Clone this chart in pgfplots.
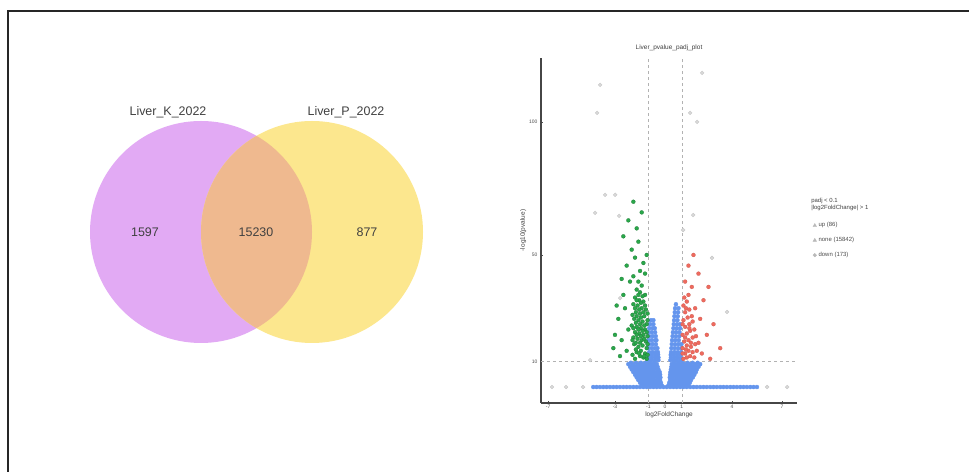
\documentclass[border=0pt]{standalone}
\usepackage{fontspec}
\setmainfont{Liberation Sans}
\usepackage{pgfplots}
\pgfplotsset{compat=1.18}
\definecolor{vpurple}{HTML}{E2AAF4}
\definecolor{vyellow}{HTML}{FCE78E}
\definecolor{vpeach}{HTML}{EFB98F}
\definecolor{ublue}{HTML}{6495ED}
\definecolor{dgreen}{HTML}{2AA74A}
\definecolor{ured}{HTML}{EE6A5E}
\begin{document}
\begin{tikzpicture}[x=1bp,y=1bp]
\path[use as bounding box] (0,0) rectangle (969,472);
\draw[line width=1.6bp, black!85] (8,-3) -- (8,461) -- (975,461);

% ---------------- Venn diagram ----------------
\begin{axis}[at={(60bp,102bp)}, anchor=south west, scale only axis,
  width=420bp, height=280bp, xmin=60, xmax=480, ymin=-370, ymax=-90,
  hide axis, clip=false]
  \fill[vpurple] (axis cs:201,-232) circle[radius=111bp];
  \fill[vyellow] (axis cs:312,-232) circle[radius=111bp];
  \begin{scope}
    \clip (axis cs:201,-232) circle[radius=111bp];
    \fill[vpeach] (axis cs:312,-232) circle[radius=111bp];
  \end{scope}
  \node[font=\fontsize{12.5}{14}\selectfont, text=black!75] at (axis cs:168,-112) {Liver\_K\_2022};
  \node[font=\fontsize{12.5}{14}\selectfont, text=black!75] at (axis cs:346,-112) {Liver\_P\_2022};
  \node[font=\fontsize{12.5}{14}\selectfont, text=black!75] at (axis cs:145,-232) {1597};
  \node[font=\fontsize{12.5}{14}\selectfont, text=black!75] at (axis cs:256,-232) {15230};
  \node[font=\fontsize{12.5}{14}\selectfont, text=black!75] at (axis cs:367,-232) {877};
\end{axis}

% ---------------- Volcano plot ----------------
\begin{axis}[at={(541bp,69bp)}, anchor=south west, scale only axis,
  width=256bp, height=345bp,
  xmin=-7.43, xmax=7.9, ymin=-5.6, ymax=124,
  axis lines*=left,
  axis line style={gray!55!black, line width=1.1bp},
  xtick={-7,-3,-1,0,1,4,7}, ytick={10,50,100},
  tick style={gray!60!black, line width=0.4bp},
  major tick length=2bp,
  tick label style={font=\fontsize{5}{5.5}\selectfont, text=black!70},
  /pgf/number format/assume math mode=true,
  xticklabel style={yshift=1bp},
  title={Liver\_pvalue\_padj\_plot},
  title style={font=\fontsize{6.5}{7}\selectfont, text=black!75, yshift=-2bp},
  xlabel={log2FoldChange}, ylabel={-log10(pvalue)},
  label style={font=\fontsize{6.5}{7}\selectfont, text=black!75},
  xlabel style={yshift=4bp}, ylabel style={yshift=-4bp},
  legend style={at={(1.05,0.535)}, anchor=north west, draw=none, fill=none,
    font=\fontsize{6}{6.5}\selectfont, text=black!70, row sep=5bp},
  legend cell align=left,
  clip mode=individual]

  % threshold lines
  \addplot[forget plot, gray!60, dashed, line width=0.5bp] coordinates {(-7.43,10) (7.9,10)};
  \addplot[forget plot, gray!60, dashed, line width=0.5bp] coordinates {(-1,-5.6) (-1,124)};
  \addplot[forget plot, gray!60, dashed, line width=0.5bp] coordinates {(1,-5.6) (1,124)};

  % faint outliers
  \addplot[forget plot, only marks, mark=*, mark size=1.9, mark options={fill=gray!30, draw=gray!45}] coordinates {
    (-3.89,113.9) (-4.07,103.4) (2.22,118.4) (1.50,103.4) (1.92,100.0)
    (-3.59,72.6) (-2.99,72.6) (-4.19,65.8) (-2.75,64.7) (1.68,65.0)
    (1.08,59.4) (2.81,48.9) (3.71,28.6) (-2.69,33.8) (-4.49,10.5)
    (-6.77,0.4) (-5.93,0.4) (-4.91,0.4) (6.11,0.4) (7.31,0.4)
  };

  % not significant (blue)
  \addplot[forget plot, only marks, mark=*, mark size=2.0, mark options={fill=ublue, draw=ublue}] coordinates {
    (-4.3,0.4) (-4.1,0.4) (-3.9,0.4) (-3.7,0.4) (-3.5,0.4) (-3.3,0.4) (-3.1,0.4) (-2.9,0.4) (-2.7,0.4) (-2.5,0.4)
    (-2.3,0.4) (-2.1,0.4) (-1.9,0.4) (-1.7,0.4) (-1.5,0.4) (-1.3,0.4) (-1.1,0.4) (-0.9,0.4) (-0.7,0.4) (-0.5,0.4)
    (-0.3,0.4) (-0.1,0.4) (0.1,0.4) (0.3,0.4) (0.5,0.4) (0.7,0.4) (0.9,0.4) (1.1,0.4) (1.3,0.4) (1.5,0.4)
    (1.7,0.4) (1.9,0.4) (2.1,0.4) (2.3,0.4) (2.5,0.4) (2.7,0.4) (2.9,0.4) (3.1,0.4) (3.3,0.4) (3.5,0.4)
    (3.7,0.4) (3.9,0.4) (4.1,0.4) (4.3,0.4) (4.5,0.4) (4.7,0.4) (4.9,0.4) (5.1,0.4) (5.3,0.4) (5.5,0.4)
    (-1.4,1) (-1.15,1) (-0.9,1) (-0.65,1) (-0.4,1) (-0.2,1) (0.2,1) (0.4,1) (0.65,1) (0.9,1) (1.15,1) (1.4,1)
    (-1.3,1.5) (-1.05,1.5) (-0.8,1.5) (-0.55,1.5) (-0.3,1.5) (0.3,1.5) (0.55,1.5) (0.8,1.5) (1.05,1.5) (1.3,1.5)
    (-1.5,2) (-1.25,2) (-1.0,2) (-0.75,2) (-0.5,2) (-0.25,2) (0.25,2) (0.5,2) (0.75,2) (1.0,2) (1.25,2) (1.48,2)
    (-1.4,2.5) (-1.15,2.5) (-0.9,2.5) (-0.65,2.5) (-0.38,2.5) (0.38,2.5) (0.62,2.5) (0.88,2.5) (1.12,2.5) (1.38,2.5)
    (-1.6,3) (-1.35,3) (-1.1,3) (-0.85,3) (-0.6,3) (-0.3,3) (0.3,3) (0.55,3) (0.8,3) (1.05,3) (1.3,3) (1.55,3)
    (-1.5,3.5) (-1.25,3.5) (-1.0,3.5) (-0.75,3.5) (-0.45,3.5) (0.42,3.5) (0.68,3.5) (0.92,3.5) (1.18,3.5) (1.42,3.5)
    (-1.7,4) (-1.45,4) (-1.2,4) (-0.95,4) (-0.7,4) (-0.45,4) (-0.28,4) (0.28,4) (0.45,4) (0.7,4) (0.95,4) (1.2,4) (1.45,4) (1.66,4)
    (-1.62,4.5) (-1.35,4.5) (-1.1,4.5) (-0.85,4.5) (-0.58,4.5) (-0.38,4.5) (0.4,4.5) (0.6,4.5) (0.85,4.5) (1.1,4.5) (1.35,4.5) (1.6,4.5)
    (-1.8,5) (-1.55,5) (-1.3,5) (-1.05,5) (-0.8,5) (-0.55,5) (-0.3,5) (0.3,5) (0.55,5) (0.8,5) (1.05,5) (1.3,5) (1.55,5) (1.75,5)
    (-1.7,5.5) (-1.45,5.5) (-1.2,5.5) (-0.95,5.5) (-0.68,5.5) (-0.42,5.5) (0.42,5.5) (0.68,5.5) (0.95,5.5) (1.2,5.5) (1.45,5.5) (1.68,5.5)
    (-1.9,6) (-1.6,6) (-1.35,6) (-1.1,6) (-0.85,6) (-0.6,6) (-0.32,6) (0.32,6) (0.6,6) (0.85,6) (1.1,6) (1.35,6) (1.6,6) (1.84,6)
    (-1.78,6.5) (-1.5,6.5) (-1.25,6.5) (-1.0,6.5) (-0.72,6.5) (-0.45,6.5) (0.45,6.5) (0.72,6.5) (0.98,6.5) (1.22,6.5) (1.48,6.5) (1.72,6.5)
    (-2.0,7) (-1.7,7) (-1.45,7) (-1.2,7) (-0.95,7) (-0.7,7) (-0.4,7) (0.35,7) (0.6,7) (0.85,7) (1.1,7) (1.35,7) (1.6,7) (1.9,7)
    (-1.85,7.5) (-1.6,7.5) (-1.32,7.5) (-1.08,7.5) (-0.82,7.5) (-0.55,7.5) (0.48,7.5) (0.72,7.5) (0.98,7.5) (1.22,7.5) (1.5,7.5) (1.78,7.5)
    (-2.1,8) (-1.8,8) (-1.5,8) (-1.25,8) (-1.0,8) (-0.75,8) (-0.45,8) (0.38,8) (0.65,8) (0.9,8) (1.15,8) (1.4,8) (1.7,8) (2.0,8)
    (-1.95,8.5) (-1.65,8.5) (-1.38,8.5) (-1.12,8.5) (-0.88,8.5) (-0.6,8.5) (0.5,8.5) (0.78,8.5) (1.02,8.5) (1.28,8.5) (1.55,8.5) (1.85,8.5)
    (-2.2,9) (-1.9,9) (-1.6,9) (-1.3,9) (-1.05,9) (-0.8,9) (-0.5,9) (0.4,9) (0.65,9) (0.9,9) (1.2,9) (1.5,9) (1.8,9) (2.1,9)
    (-2.05,9.5) (-1.75,9.5) (-1.45,9.5) (-1.18,9.5) (-0.92,9.5) (-0.65,9.5) (0.52,9.5) (0.78,9.5) (1.05,9.5) (1.35,9.5) (1.65,9.5) (1.95,9.5)
    (-1.0,10.5) (-0.8,10.5) (-0.6,10.5) (-0.4,10.5) (-0.98,11.5) (-0.78,11.5) (-0.58,11.5) (-0.4,11.5)
    (-1.0,12.5) (-0.8,12.5) (-0.6,12.5) (-0.42,12.5) (-0.95,13.5) (-0.75,13.5) (-0.55,13.5) (-0.43,13.5)
    (-1.0,15) (-0.8,15) (-0.62,15) (-0.46,15) (-0.95,16.5) (-0.75,16.5) (-0.55,16.5)
    (-1.0,18) (-0.8,18) (-0.6,18) (-0.52,18) (-0.95,19.5) (-0.75,19.5) (-0.56,19.5)
    (-1.0,21) (-0.8,21) (-0.6,21) (-0.95,22.5) (-0.75,22.5) (-0.62,22.5) (-0.9,24) (-0.7,24) (-0.85,25.5) (-0.7,25.5)
    (0.32,10.5) (0.5,10.5) (0.7,10.5) (0.9,10.5) (0.35,11.5) (0.55,11.5) (0.75,11.5) (0.95,11.5)
    (0.34,12.5) (0.52,12.5) (0.72,12.5) (0.92,12.5) (0.36,13.5) (0.56,13.5) (0.76,13.5) (0.96,13.5)
    (0.38,15) (0.58,15) (0.78,15) (0.98,15) (0.4,16.5) (0.6,16.5) (0.8,16.5) (0.98,16.5)
    (0.42,18) (0.62,18) (0.82,18) (0.45,19.5) (0.65,19.5) (0.85,19.5) (0.47,21) (0.66,21) (0.86,21)
    (0.5,22.5) (0.7,22.5) (0.9,22.5) (0.52,24) (0.72,24) (0.9,24) (0.54,25.5) (0.74,25.5)
    (0.56,27) (0.76,27) (0.58,28.5) (0.78,28.5) (0.6,30) (0.8,30) (0.65,31.5)
  };

  % down (green)
  \addplot[forget plot, only marks, mark=*, mark size=2.0, mark options={fill=dgreen, draw=dgreen!70!black, line width=0.2bp}] coordinates {
    (-1.1,11) (-1.3,11.5) (-1.5,12) (-1.8,11) (-1.2,13) (-1.45,14) (-1.7,13.5) (-1.95,12.5)
    (-1.1,15) (-1.35,16) (-1.6,15.5) (-1.85,16.5) (-1.15,17.5) (-1.4,18) (-1.65,18.5) (-1.9,19)
    (-1.05,19.5) (-1.3,20) (-1.55,20.5) (-1.8,21) (-1.2,22) (-1.45,22.5) (-1.7,23) (-2.0,23.5)
    (-1.1,24) (-1.35,25) (-1.6,25.5) (-1.85,26) (-1.25,27) (-1.5,28) (-1.75,28.5) (-1.15,29.5)
    (-1.4,30) (-1.65,31) (-1.9,31.5) (-1.3,32.5) (-1.55,33) (-1.8,34) (-1.2,35) (-1.5,36)
    (-1.7,37) (-1.4,38.5) (-1.6,40)
    (-1.05,12.5) (-1.25,12) (-1.55,13) (-1.75,14.5) (-1.05,16.5) (-1.5,17) (-1.75,17) (-1.25,18.5)
    (-1.95,18) (-1.45,19.5) (-1.7,20) (-1.1,21) (-1.35,21.5) (-1.6,22) (-1.9,22.5) (-1.25,23.5)
    (-1.5,24) (-1.75,24.5) (-1.05,25.5) (-1.45,26.5) (-1.7,27) (-1.95,27.5) (-1.3,28.5) (-1.05,28)
    (-1.55,29.5) (-1.8,30) (-1.2,31) (-1.45,32) (-1.7,33) (-1.35,34.5) (-1.6,35)
    (-2.3,14) (-2.6,18) (-2.2,22) (-2.8,26) (-2.4,30) (-2.5,35) (-2.1,40) (-1.9,42) (-1.5,44)
    (-2.3,46) (-1.8,49) (-1.3,47) (-2.0,52) (-1.6,55) (-2.5,57) (-1.7,60) (-2.2,63) (-1.4,66)
    (-1.9,70) (-2.7,12) (-3.0,20) (-2.9,31) (-3.1,15) (-2.6,41) (-1.2,43) (-1.1,50)
  };

  % up (red)
  \addplot[forget plot, only marks, mark=*, mark size=2.0, mark options={fill=ured, draw=ured!85!black, line width=0.2bp}] coordinates {
    (1.1,11) (1.3,11.5) (1.5,12) (1.75,11.5) (1.2,13) (1.4,14) (1.65,13.5) (1.05,15)
    (1.3,16) (1.55,15.5) (1.8,16.5) (1.15,17.5) (1.4,18) (1.65,19) (1.05,20) (1.3,20.5)
    (1.5,21.5) (1.75,22) (1.2,23) (1.45,24) (1.1,25.5) (1.35,26.5) (1.6,27) (1.2,28.5)
    (1.45,29.5) (1.1,31) (1.3,32.5) (1.05,13) (1.25,14.5) (1.55,17) (1.2,19) (1.45,22.5)
    (1.05,24) (1.65,25) (1.25,30) (1.9,14) (1.85,19.5) (2.0,17) (1.15,34) (1.4,35)
    (2.2,13) (2.5,20) (2.1,26) (1.8,30) (2.3,33) (1.6,38) (1.2,40) (2.0,43) (1.4,46)
    (2.6,38) (1.7,50) (2.9,24) (3.3,15) (2.7,11)
  };

  \addlegendimage{only marks, mark=triangle*, mark size=2, gray!55}
  \addlegendentry{up (86)}
  \addlegendimage{only marks, mark=triangle*, mark size=2, gray!55}
  \addlegendentry{none (15842)}
  \addlegendimage{only marks, mark=*, mark size=1.8, gray!55}
  \addlegendentry{down (173)}

  \node[anchor=north west, align=left, inner sep=0pt, font=\fontsize{6}{7.5}\selectfont, text=black!75]
    at (rel axis cs:1.055,0.595) {padj < 0.1\\|log2FoldChange| > 1};
\end{axis}
\end{tikzpicture}
\end{document}
